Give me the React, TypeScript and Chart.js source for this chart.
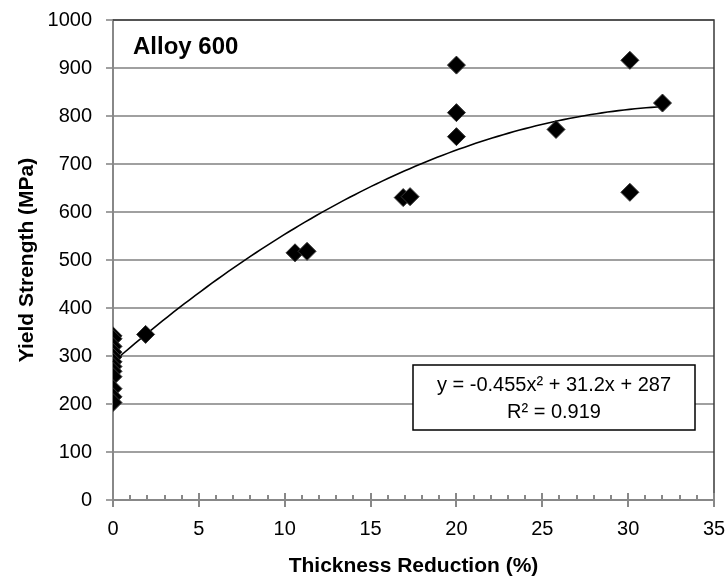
import React, { useEffect, useRef } from "react";
import { Chart, registerables } from "chart.js";

Chart.register(...registerables);

const xValues = [0, 0, 0, 0, 0, 0, 0, 0, 0, 0, 0, 0, 1.9, 10.6, 11.3, 16.9, 17.3, 20, 20, 20, 25.8, 30.1, 30.1, 32.0];
const yValues = [342, 336, 320, 308, 298, 288, 278, 268, 257, 232, 215, 203, 345, 515, 518, 630, 632, 906, 807, 757, 772, 916, 641, 827];
const trendCoefficients = [-0.455, 31.2, 287];
const trendRange = [0, 32.0];
const xTicks = [0, 5, 10, 15, 20, 25, 30, 35];
const yTicks = [0, 100, 200, 300, 400, 500, 600, 700, 800, 900, 1000];
const chartTitle = "Alloy 600";
const equationLines = ["y = -0.455x² + 31.2x + 287", "R² = 0.919"];
const xTitle = "Thickness Reduction (%)";
const yTitle = "Yield Strength (MPa)";

const SANS = "'Liberation Sans', Arial, sans-serif";

const decorPlugin = {
  id: "decor",
  beforeDatasetsDraw(chart: any) {
    const { ctx, chartArea, scales } = chart;
    const xs = scales.x;
    const ys = scales.y;
    ctx.save();
    ctx.strokeStyle = "#3a3a3a";
    ctx.lineWidth = 1.5;
    ctx.beginPath();
    ctx.moveTo(chartArea.left, chartArea.top);
    ctx.lineTo(chartArea.right, chartArea.top);
    ctx.lineTo(chartArea.right, chartArea.bottom);
    ctx.stroke();
    ctx.strokeStyle = "#888";
    ctx.lineWidth = 2;
    for (let v = xs.min; v <= xs.max; v += 1) {
      const px = Math.round(xs.getPixelForValue(v));
      const major = xTicks.includes(v);
      ctx.beginPath();
      ctx.moveTo(px, chartArea.bottom);
      ctx.lineTo(px, chartArea.bottom - (major ? 7 : 5));
      ctx.stroke();
    }
    const [a, b, c] = trendCoefficients;
    ctx.strokeStyle = "#000";
    ctx.lineWidth = 1.6;
    ctx.beginPath();
    const n = 100;
    for (let i = 0; i <= n; i++) {
      const x = trendRange[0] + ((trendRange[1] - trendRange[0]) * i) / n;
      const y = a * x * x + b * x + c;
      const px = xs.getPixelForValue(x);
      const py = ys.getPixelForValue(y);
      if (i === 0) ctx.moveTo(px, py);
      else ctx.lineTo(px, py);
    }
    ctx.stroke();
    ctx.restore();
  },
  afterDatasetsDraw(chart: any) {
    const { ctx, chartArea } = chart;
    ctx.save();
    ctx.fillStyle = "#000";
    ctx.font = `bold 24px ${SANS}`;
    ctx.textAlign = "left";
    ctx.textBaseline = "alphabetic";
    ctx.fillText(chartTitle, chartArea.left + 20, 54);
    const bx = 413, by = 365, bw = 282, bh = 65;
    ctx.fillStyle = "#fff";
    ctx.fillRect(bx, by, bw, bh);
    ctx.strokeStyle = "#000";
    ctx.lineWidth = 1.5;
    ctx.strokeRect(bx, by, bw, bh);
    ctx.fillStyle = "#000";
    ctx.font = `20px ${SANS}`;
    ctx.textAlign = "center";
    ctx.textBaseline = "middle";
    ctx.fillText(equationLines[0], bx + bw / 2, by + 20);
    ctx.fillText(equationLines[1], bx + bw / 2, by + 47);
    ctx.restore();
  },
};

export default function App() {
  const ref = useRef<HTMLCanvasElement>(null);
  useEffect(() => {
    if (!ref.current) return;
    const chart = new Chart(ref.current, {
      type: "scatter",
      data: {
        datasets: [
          {
            label: "Yield Strength",
            data: xValues.map((x, i) => ({ x, y: yValues[i] })),
            pointStyle: "rectRot",
            pointRadius: 9,
            pointBackgroundColor: "#000",
            pointBorderColor: "#333",
            pointBorderWidth: 1,
          },
        ],
      },
      options: {
        responsive: false,
        animation: false,
        layout: { padding: { top: 20, right: 12, left: 0, bottom: 0 } },
        plugins: { legend: { display: false }, tooltip: { enabled: false } },
        scales: {
          x: {
            type: "linear",
            min: 0,
            max: 35,
            afterBuildTicks: (s: any) => {
              s.ticks = xTicks.map((v) => ({ value: v }));
            },
            afterFit: (s: any) => {
              s.height = 83;
              s.paddingLeft = 0;
              s.paddingRight = 0;
            },
            ticks: { font: { family: SANS, size: 20 }, color: "#000", padding: 10, maxRotation: 0, callback: (v: any) => String(v) },
            grid: { drawOnChartArea: false, tickLength: 7, color: "#888", lineWidth: 2 },
            border: { color: "#888", width: 2 },
            title: { display: true, text: xTitle, font: { family: SANS, size: 21, weight: "bold" }, color: "#000", padding: { bottom: 4, top: 0 } },
          },
          y: {
            type: "linear",
            min: 0,
            max: 1000,
            afterBuildTicks: (s: any) => {
              s.ticks = yTicks.map((v) => ({ value: v }));
            },
            afterFit: (s: any) => {
              s.width = 113;
              s.paddingTop = 0;
              s.paddingBottom = 0;
            },
            ticks: { font: { family: SANS, size: 20 }, color: "#000", padding: 14, callback: (v: any) => String(v) },
            grid: { color: "#a0a0a0", lineWidth: 2, tickLength: 7 },
            border: { color: "#888", width: 2 },
            title: { display: true, text: yTitle, font: { family: SANS, size: 21, weight: "bold" }, color: "#000", padding: { top: 15, bottom: 0 } },
          },
        },
      },
      plugins: [decorPlugin],
    });
    return () => chart.destroy();
  }, []);
  return (
    <div style={{ position: "absolute", left: 0, top: 0, width: 726, height: 583 }}>
      <canvas ref={ref} width={726} height={583} style={{ display: "block" }} />
    </div>
  );
}
